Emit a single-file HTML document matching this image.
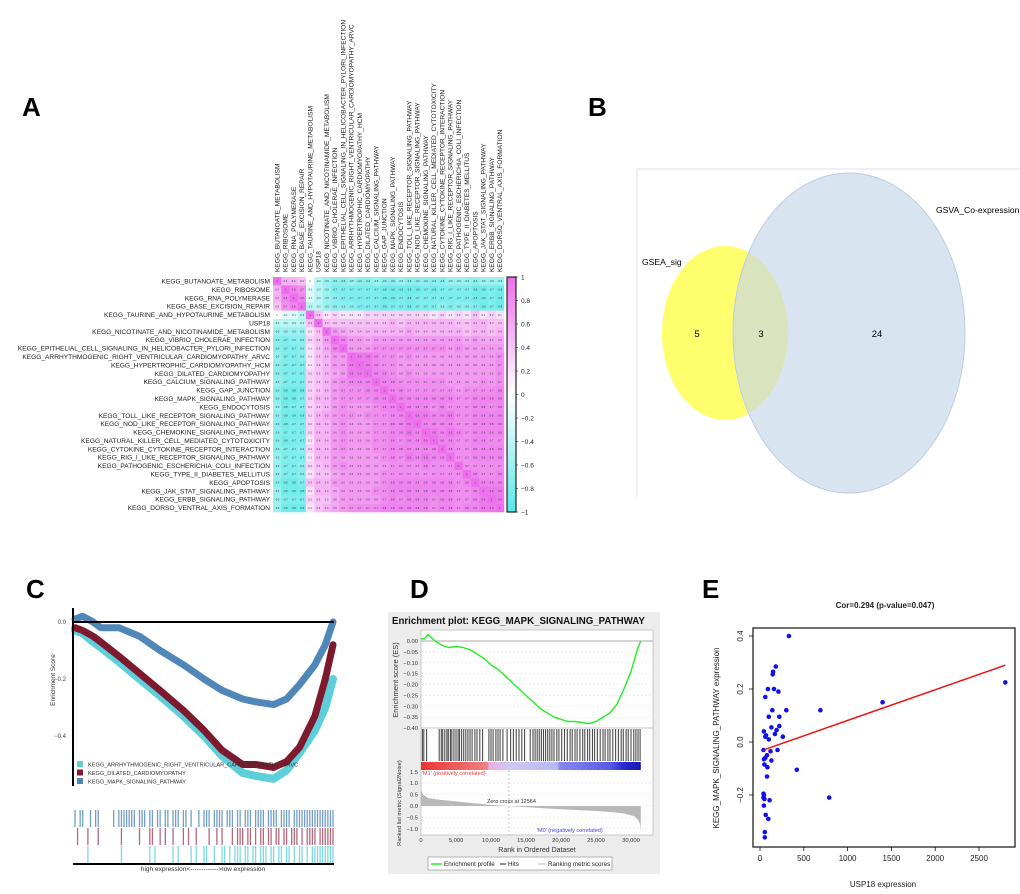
<!DOCTYPE html>
<html><head><meta charset="utf-8">
<style>
html,body{margin:0;padding:0;background:#fff;}
svg{display:block;font-family:"Liberation Sans",Arial,sans-serif;}
</style></head>
<body>
<svg id="fig" width="1020" height="894" viewBox="0 0 1020 894" xmlns="http://www.w3.org/2000/svg">
  <text x="22" y="116" font-size="26" font-weight="bold">A</text>
  <text x="588" y="116" font-size="26" font-weight="bold">B</text>
  <text x="26" y="598" font-size="26" font-weight="bold">C</text>
  <text x="410" y="598" font-size="26" font-weight="bold">D</text>
  <text x="702" y="598" font-size="26" font-weight="bold">E</text>

  <g id="venn">
    <line x1="637" y1="169" x2="1020" y2="169" stroke="#e2e2e2" stroke-width="1"/>
    <line x1="637" y1="169" x2="637" y2="497" stroke="#e2e2e2" stroke-width="1"/>
    <ellipse cx="725" cy="333" rx="63" ry="87" fill="#ffff55" fill-opacity="0.85"/>
    <ellipse cx="849" cy="333" rx="116" ry="160" fill="#c5d5ea" fill-opacity="0.65" stroke="#bccde4" stroke-width="1"/>
    <text x="642" y="265" font-size="8.6">GSEA_sig</text>
    <text x="936" y="213" font-size="8.6">GSVA_Co-expression</text>
    <text x="697" y="337" font-size="9.5" text-anchor="middle">5</text>
    <text x="761" y="337" font-size="9.5" text-anchor="middle">3</text>
    <text x="877" y="337" font-size="9.5" text-anchor="middle">24</text>
  </g>
  <g id="heat"></g>
  <g id="gseaC"></g>
  <g id="gseaD"></g>
  <g id="scatE"></g>
</svg>
<script>
// ---------- Panel A data ----------
const pathways = ["KEGG_BUTANOATE_METABOLISM","KEGG_RIBOSOME","KEGG_RNA_POLYMERASE","KEGG_BASE_EXCISION_REPAIR","KEGG_TAURINE_AND_HYPOTAURINE_METABOLISM","USP18","KEGG_NICOTINATE_AND_NICOTINAMIDE_METABOLISM","KEGG_VIBRIO_CHOLERAE_INFECTION","KEGG_EPITHELIAL_CELL_SIGNALING_IN_HELICOBACTER_PYLORI_INFECTION","KEGG_ARRHYTHMOGENIC_RIGHT_VENTRICULAR_CARDIOMYOPATHY_ARVC","KEGG_HYPERTROPHIC_CARDIOMYOPATHY_HCM","KEGG_DILATED_CARDIOMYOPATHY","KEGG_CALCIUM_SIGNALING_PATHWAY","KEGG_GAP_JUNCTION","KEGG_MAPK_SIGNALING_PATHWAY","KEGG_ENDOCYTOSIS","KEGG_TOLL_LIKE_RECEPTOR_SIGNALING_PATHWAY","KEGG_NOD_LIKE_RECEPTOR_SIGNALING_PATHWAY","KEGG_CHEMOKINE_SIGNALING_PATHWAY","KEGG_NATURAL_KILLER_CELL_MEDIATED_CYTOTOXICITY","KEGG_CYTOKINE_CYTOKINE_RECEPTOR_INTERACTION","KEGG_RIG_I_LIKE_RECEPTOR_SIGNALING_PATHWAY","KEGG_PATHOGENIC_ESCHERICHIA_COLI_INFECTION","KEGG_TYPE_II_DIABETES_MELLITUS","KEGG_APOPTOSIS","KEGG_JAK_STAT_SIGNALING_PATHWAY","KEGG_ERBB_SIGNALING_PATHWAY","KEGG_DORSO_VENTRAL_AXIS_FORMATION"];
const corrRows = [
"1 .4 .4 .3 0 -.3 -.5 -.6 -.6 -.5 -.6 -.6 -.5 -.6 -.6 -.5 -.6 -.6 -.6 -.6 -.6 -.5 -.5 -.5 -.6 -.5 -.5 -.5",
".4 1 .8 .7 -.1 -.3 -.5 -.7 -.7 -.7 -.7 -.7 -.7 -.8 -.8 -.8 -.8 -.8 -.7 -.8 -.7 -.7 -.7 -.7 -.8 -.8 -.7 -.8",
".4 .8 1 .8 -.1 -.3 -.5 -.6 -.7 -.7 -.7 -.7 -.7 -.8 -.8 -.7 -.8 -.7 -.7 -.7 -.7 -.7 -.7 -.7 -.8 -.8 -.7 -.8",
".3 .7 .8 1 -.3 -.3 -.5 -.6 -.6 -.6 -.7 -.7 -.7 -.8 -.7 -.7 -.8 -.7 -.7 -.7 -.6 -.7 -.6 -.6 -.7 -.8 -.7 -.8",
"0 -.1 -.1 -.3 1 .3 .1 .2 .1 .1 .1 .2 .2 .2 .2 .2 .2 .2 .2 .1 .2 .1 .2 .1 .3 .1 .2 .1",
"-.3 -.3 -.3 -.3 .3 1 .3 .3 .3 .3 .3 .3 .3 .3 .4 .3 .4 .4 .4 .4 .4 .4 .3 .3 .4 .4 .3 .3",
"-.5 -.5 -.5 -.5 .1 .3 1 .6 .5 .4 .4 .4 .4 .4 .4 .4 .5 .4 .4 .4 .4 .4 .4 .3 .4 .4 .3 .4",
"-.6 -.7 -.6 -.6 .2 .3 .6 1 .8 .6 .6 .5 .6 .6 .6 .6 .6 .6 .6 .6 .6 .6 .6 .5 .6 .5 .5 .5",
"-.6 -.7 -.7 -.6 .1 .3 .5 .8 1 .6 .6 .6 .7 .7 .7 .7 .7 .7 .7 .7 .7 .6 .7 .6 .6 .6 .6 .6",
"-.5 -.7 -.7 -.6 .1 .3 .4 .6 .6 1 .9 .9 .8 .7 .7 .6 .7 .6 .6 .6 .6 .6 .6 .6 .6 .6 .6 .7",
"-.6 -.7 -.7 -.7 .1 .3 .4 .6 .6 .9 1 .9 .8 .7 .7 .6 .6 .6 .6 .6 .6 .6 .6 .6 .6 .6 .6 .7",
"-.6 -.7 -.7 -.7 .2 .3 .4 .5 .6 .9 .9 1 .8 .8 .7 .6 .7 .6 .6 .6 .6 .6 .6 .6 .6 .6 .6 .7",
"-.5 -.7 -.7 -.7 .2 .3 .4 .6 .7 .8 .8 .8 1 .8 .8 .7 .7 .7 .7 .7 .7 .6 .6 .6 .6 .7 .6 .7",
"-.6 -.8 -.8 -.8 .2 .3 .4 .6 .7 .7 .7 .8 .8 1 .8 .8 .7 .7 .7 .7 .7 .7 .6 .7 .7 .7 .7 .8",
"-.6 -.8 -.8 -.7 .2 .4 .4 .6 .7 .7 .7 .7 .8 .8 1 .8 .8 .8 .8 .8 .8 .8 .7 .7 .8 .8 .8 .8",
"-.5 -.8 -.7 -.7 .2 .3 .4 .6 .7 .6 .6 .6 .7 .8 .8 1 .8 .8 .8 .7 .8 .7 .7 .7 .8 .8 .7 .8",
"-.6 -.8 -.8 -.8 .2 .4 .5 .6 .7 .7 .6 .7 .7 .7 .8 .8 1 .9 .9 .8 .8 .9 .7 .7 .8 .8 .8 .8",
"-.6 -.8 -.7 -.7 .2 .4 .4 .6 .7 .6 .6 .6 .7 .7 .8 .8 .9 1 .8 .8 .8 .8 .7 .7 .8 .8 .8 .8",
"-.6 -.7 -.7 -.7 .2 .4 .4 .6 .7 .6 .6 .6 .7 .7 .8 .8 .9 .8 1 .9 .8 .9 .8 .7 .8 .8 .8 .8",
"-.6 -.8 -.7 -.7 .1 .4 .4 .6 .7 .6 .6 .6 .7 .7 .8 .7 .8 .8 .9 1 .8 .8 .7 .7 .8 .8 .7 .7",
"-.6 -.7 -.7 -.6 .2 .4 .4 .6 .7 .6 .6 .6 .7 .7 .8 .8 .8 .8 .8 .8 1 .8 .7 .7 .8 .8 .8 .8",
"-.5 -.7 -.7 -.7 .1 .4 .4 .6 .6 .6 .6 .6 .6 .7 .8 .7 .9 .8 .9 .8 .8 1 .7 .7 .8 .8 .8 .8",
"-.5 -.7 -.7 -.6 .2 .3 .4 .6 .7 .6 .6 .6 .6 .6 .7 .7 .7 .7 .8 .7 .7 .7 1 .7 .7 .7 .7 .7",
"-.5 -.7 -.7 -.6 .1 .3 .3 .5 .6 .6 .6 .6 .6 .7 .7 .7 .7 .7 .7 .7 .7 .7 .7 1 .8 .7 .7 .8",
"-.6 -.8 -.8 -.7 .3 .4 .4 .6 .6 .6 .6 .6 .6 .7 .8 .8 .8 .8 .8 .8 .8 .8 .7 .8 1 .8 .8 .8",
"-.5 -.8 -.8 -.8 .1 .4 .4 .5 .6 .6 .6 .6 .7 .7 .8 .8 .8 .8 .8 .8 .8 .8 .7 .7 .8 1 .9 .9",
"-.5 -.7 -.7 -.7 .2 .3 .3 .5 .6 .6 .6 .6 .6 .7 .8 .7 .8 .8 .8 .7 .8 .8 .7 .7 .8 .9 1 .9",
"-.5 -.8 -.8 -.8 .1 .3 .4 .5 .6 .7 .7 .7 .7 .8 .8 .8 .8 .8 .8 .7 .8 .8 .7 .8 .8 .9 .9 1"
];
const colorbarTicks = [1,0.8,0.6,0.4,0.2,0,-0.2,-0.4,-0.6,-0.8,-1];

// ---------- Panel C data ----------
const cRank = [0,0.03,0.07,0.1,0.17,0.25,0.33,0.42,0.5,0.57,0.65,0.7,0.77,0.82,0.87,0.93,0.97,1.0];
const cMapk = [0.01,0.02,0.0,-0.02,-0.02,-0.05,-0.1,-0.15,-0.2,-0.24,-0.27,-0.28,-0.29,-0.27,-0.22,-0.15,-0.08,0.0];
const cDilated = [-0.02,-0.03,-0.05,-0.07,-0.12,-0.18,-0.24,-0.31,-0.38,-0.45,-0.5,-0.5,-0.51,-0.49,-0.44,-0.33,-0.2,-0.08];
const cArvc = [-0.03,-0.04,-0.07,-0.09,-0.14,-0.2,-0.26,-0.33,-0.4,-0.47,-0.53,-0.54,-0.55,-0.52,-0.46,-0.38,-0.3,-0.2];
const cTicks = [0.0,-0.2,-0.4];
const cLegend = ["KEGG_ARRHYTHMOGENIC_RIGHT_VENTRICULAR_CARDIOMYOPATHY_ARVC","KEGG_DILATED_CARDIOMYOPATHY","KEGG_MAPK_SIGNALING_PATHWAY"];
const rugMapk = [0.0,0.02,0.03,0.06,0.08,0.09,0.15,0.17,0.18,0.19,0.2,0.21,0.22,0.23,0.25,0.26,0.27,0.29,0.3,0.32,0.33,0.35,0.36,0.38,0.39,0.4,0.42,0.43,0.45,0.48,0.5,0.51,0.52,0.54,0.55,0.56,0.57,0.59,0.6,0.61,0.63,0.64,0.66,0.67,0.68,0.7,0.71,0.72,0.73,0.75,0.76,0.77,0.78,0.8,0.81,0.82,0.83,0.85,0.86,0.87,0.88,0.89,0.9,0.91,0.92,0.93,0.94,0.95,0.96,0.97,0.98,0.99,1.0];
const rugDilated = [0.01,0.05,0.09,0.18,0.25,0.29,0.3,0.33,0.35,0.38,0.42,0.44,0.47,0.52,0.55,0.57,0.61,0.63,0.64,0.65,0.67,0.68,0.7,0.72,0.73,0.75,0.76,0.78,0.79,0.81,0.82,0.84,0.85,0.86,0.88,0.9,0.91,0.92,0.93,0.95,0.96,0.97,0.98,0.99,1.0];
const rugArvc = [0.05,0.18,0.29,0.31,0.38,0.4,0.45,0.47,0.5,0.51,0.54,0.57,0.58,0.6,0.62,0.63,0.64,0.66,0.67,0.69,0.7,0.72,0.73,0.74,0.76,0.77,0.79,0.8,0.82,0.83,0.85,0.87,0.88,0.9,0.92,0.93,0.94,0.95,0.96,0.97,0.98,0.99,1.0];

// ---------- Panel D data ----------
const dRank = [0,500,1000,2000,3000,4000,5000,6000,7000,8000,9000,10000,11000,12000,13000,14000,15000,16000,17000,18000,19000,20000,21000,22000,23000,24000,25000,26000,27000,28000,29000,30000,31000,31400];
const dEs = [0.01,0.01,0.03,0.0,-0.02,-0.03,-0.025,-0.03,-0.04,-0.06,-0.08,-0.11,-0.13,-0.16,-0.19,-0.22,-0.25,-0.28,-0.31,-0.33,-0.35,-0.36,-0.37,-0.37,-0.375,-0.38,-0.37,-0.35,-0.33,-0.29,-0.22,-0.14,-0.03,0.0];
const dHits = [200,400,800,2600,2900,3100,3400,3700,3900,4200,4400,4700,5000,5300,5500,5800,6100,6400,6700,7000,7300,7700,8000,8400,8800,9700,10000,10300,10700,11000,11300,11700,12300,12800,13200,13600,14000,14400,14800,15600,16000,16300,16600,16900,17200,17500,17800,18100,18400,18700,19000,19400,19700,20100,20500,20900,21300,21600,22000,22300,22700,23100,23400,23800,24100,24500,24800,25200,25600,26000,26300,26700,27000,27400,27800,28200,28600,28900,29300,29600,30000,30400,30700,31000,31300];
const dMetricRank = [0,300,1000,2500,5000,7500,10000,12564,15000,17500,20000,22500,25000,27500,29000,30500,31000,31300,31400];
const dMetric = [0.7,0.5,0.35,0.28,0.2,0.12,0.05,0.0,-0.05,-0.1,-0.14,-0.18,-0.22,-0.27,-0.33,-0.45,-0.6,-0.8,-1.1];
const dEsTicks = [0.00,-0.05,-0.10,-0.15,-0.20,-0.25,-0.30,-0.35,-0.40];
const dMetricTicks = [1.5,1.0,0.5,0.0,-0.5,-1.0];
const dRankTicks = [0,5000,10000,15000,20000,25000,30000];

// ---------- Panel E data ----------
const usp18 = [330,180,150,145,90,160,210,60,140,300,690,1400,2800,100,220,130,220,190,45,170,70,260,60,100,200,40,120,80,60,45,130,50,85,420,80,40,45,40,50,110,790,45,65,95,55,55];
const mapkExpr = [0.40,0.285,0.265,0.255,0.20,0.20,0.19,0.17,0.12,0.12,0.12,0.15,0.225,0.095,0.095,0.055,0.06,0.045,0.04,0.03,0.025,0.02,0.02,0.01,-0.03,-0.03,-0.035,-0.05,-0.06,-0.065,-0.07,-0.085,-0.095,-0.105,-0.13,-0.195,-0.2,-0.21,-0.215,-0.22,-0.21,-0.24,-0.275,-0.29,-0.34,-0.36];
const fitX = [40,2800];
const fitY = [-0.03,0.29];
const eXTicks = [0,500,1000,1500,2000,2500];
const eYTicks = [0.4,0.2,0.0,-0.2];

const NS = "http://www.w3.org/2000/svg";
function mk(parent, tag, attrs, txt){
  const e = document.createElementNS(NS, tag);
  for (const k in attrs) e.setAttribute(k, attrs[k]);
  if (txt !== undefined) e.textContent = txt;
  parent.appendChild(e);
  return e;
}
function poly(xs, ys, fx, fy){ return xs.map((x,i)=>fx(x).toFixed(1)+","+fy(ys[i]).toFixed(1)).join(" "); }

// ===== Panel A =====
(function(){
  const g = document.getElementById('heat');
  const n = pathways.length, x0 = 273, y0 = 277, cw = 231/n, ch = 235/n;
  const matrix = corrRows.map(r => r.trim().split(/\s+/).map(Number));
  function col(v){
    let c;
    const t = Math.pow(Math.abs(v), 0.7);
    if (v >= 0) c = [255 + (236-255)*t, 255 + (110-255)*t, 255 + (236-255)*t];
    else c = [255 + (90-255)*t, 255 + (232-255)*t, 255 + (232-255)*t];
    return "rgb("+c.map(Math.round).join(",")+")";
  }
  for (let i=0;i<n;i++){
    const rl = mk(g,'text',{x:270,y:(y0+ch*(i+0.5)+2.3).toFixed(1),'font-size':6.6,'text-anchor':'end',fill:'#222'}, pathways[i]);
    
    
    const cx = x0+cw*(i+0.5)+2.3;
    const cl = mk(g,'text',{x:cx.toFixed(1),y:272,'font-size':6.6,fill:'#222',transform:'rotate(-90 '+cx.toFixed(1)+' 272)'}, pathways[i]);
    
    
    for (let j=0;j<n;j++){
      const v = matrix[i][j];
      const r = mk(g,'rect',{x:(x0+cw*j).toFixed(2),y:(y0+ch*i).toFixed(2),width:(cw+0.3).toFixed(2),height:(ch+0.3).toFixed(2),fill:col(v)});
      
      
      const t = mk(g,'text',{x:(x0+cw*(j+0.5)).toFixed(1),y:(y0+ch*(i+0.5)+1).toFixed(1),'font-size':2.6,'text-anchor':'middle',fill:'#333'}, String(v));
      
      
    }
  }
  const defs = mk(g,'defs',{});
  const lg = mk(defs,'linearGradient',{id:'cbar',x1:0,y1:0,x2:0,y2:1});
  mk(lg,'stop',{offset:'0','stop-color':col(1)});
  mk(lg,'stop',{offset:'0.5','stop-color':'#fff'});
  mk(lg,'stop',{offset:'1','stop-color':col(-1)});
  const cb = mk(g,'rect',{x:507,y:277,width:9,height:235,fill:'url(#cbar)',stroke:'#222','stroke-width':1.2});
  
  
  colorbarTicks.forEach(v=>{
    const y = 277 + (1-v)/2*235;
    mk(g,'line',{x1:516,x2:518,y1:y,y2:y,stroke:'#222','stroke-width':0.6});
    const t = mk(g,'text',{x:521,y:(y+2.3).toFixed(1),'font-size':6.5,fill:'#222'}, v===0?'0':String(v).replace('-','\u2212'));
    
    
  });
})();

// ===== Panel C =====
(function(){
  const g = document.getElementById('gseaC');
  const fx = f => 75 + f*258, fy = v => 622 - v*285;
  cTicks.forEach(v=>{
    const t = mk(g,'text',{x:66,y:fy(v)+2,'font-size':6,'text-anchor':'end',fill:'#444'}, v===0?'0.0':v.toFixed(1).replace('-','\u2212'));
    
    
  });
  const yt = mk(g,'text',{x:55,y:680,'font-size':6.5,'text-anchor':'middle',fill:'#333',transform:'rotate(-90 55 680)'},'Enrichment Score');
  
  
  const series = [[cArvc,'#5ccfdb',8,'arvc-curve'],[cDilated,'#7e1a2e',7,'dilated-curve'],[cMapk,'#5087b9',7,'mapk-curve']];
  series.forEach(s=>{
    const p = mk(g,'polyline',{points:poly(cRank,s[0],fx,fy),fill:'none',stroke:s[1],'stroke-width':s[2],'stroke-linejoin':'round','stroke-linecap':'round'});
    
    
  });
  const ax = mk(g,'line',{x1:73,y1:608,x2:73,y2:786,stroke:'#000','stroke-width':2});
  
  
  const zl = mk(g,'line',{x1:73,y1:fy(0),x2:334,y2:fy(0),stroke:'#000','stroke-width':2});
  
  
  const lc = ['#5ccfdb','#7e1a2e','#5087b9'];
  cLegend.forEach((name,i)=>{
    const y = 761 + i*8.5;
    const sw = mk(g,'rect',{x:77,y:y,width:6,height:6,fill:lc[i]});
    
    
    const t = mk(g,'text',{x:88,y:y+5.3,'font-size':5.6,fill:'#333'},name);
    
    
  });
  const rugs = [[rugMapk,'#5087b9',810,'mapk-rug'],[rugDilated,'#a0445a',828,'dilated-rug'],[rugArvc,'#5ccfdb',846,'arvc-rug']];
  rugs.forEach(r=>{
    r[0].forEach(f=>{
      const l = mk(g,'line',{x1:fx(f),x2:fx(f),y1:r[2],y2:r[2]+17,stroke:r[1],'stroke-width':1.3,'stroke-opacity':0.8});
      
      
    });
  });
  const bl = mk(g,'line',{x1:73,y1:864,x2:334,y2:864,stroke:'#000','stroke-width':2});
  
  
  const xt = mk(g,'text',{x:203,y:871,'font-size':6.5,'text-anchor':'middle',fill:'#333'},'high expression<------------->low expression');
  
  
})();

// ===== Panel D =====
(function(){
  const g = document.getElementById('gseaD');
  const fx = r => 421 + r*(210/30000);
  const fyE = v => 641 - v*(87/0.40);
  const fyM = m => 806 - m*22.8;
  const bg = mk(g,'rect',{x:388,y:612,width:272,height:262,fill:'#ececec'});
  
  
  const tt = mk(g,'text',{x:392,y:624,'font-size':9.7,'font-weight':'bold',fill:'#111'},'Enrichment plot: KEGG_MAPK_SIGNALING_PATHWAY');
  
  
  const pa = mk(g,'rect',{x:421,y:630,width:232,height:205,fill:'#fff',stroke:'#aaa','stroke-width':0.6});
  
  
  dEsTicks.forEach(v=>{
    const y = fyE(v);
    mk(g,'line',{x1:421,x2:653,y1:y,y2:y,stroke:'#ddd','stroke-width':0.5,'stroke-dasharray':'2,2'});
    const t = mk(g,'text',{x:418,y:y+2,'font-size':5.8,'text-anchor':'end',fill:'#333'},v.toFixed(2).replace('-','\u2212'));
    
    
  });
  mk(g,'line',{x1:421,x2:653,y1:fyE(0),y2:fyE(0),stroke:'#bbb','stroke-width':1.2});
  const es = mk(g,'polyline',{points:poly(dRank,dEs,fx,fyE),fill:'none',stroke:'#22ee22','stroke-width':1.4});
  
  
  mk(g,'line',{x1:421,x2:653,y1:728,y2:728,stroke:'#999','stroke-width':0.6});
  dHits.forEach(r=>{
    const l = mk(g,'line',{x1:fx(r),x2:fx(r),y1:729,y2:761,stroke:'#111','stroke-width':1.1,'stroke-opacity':0.75});
    
    
  });
  const defs = mk(g,'defs',{});
  const lg = mk(defs,'linearGradient',{id:'rankbar',x1:0,y1:0,x2:1,y2:0});
  [['0','#ee3333'],['0.3','#f08080'],['0.31','#e8b0e0'],['0.4','#cfc8f2'],['0.62','#b8b8f0'],['0.63','#8888ee'],['0.86','#5a5ae8'],['0.92','#2a2ad0'],['1','#1818b0']].forEach(s=>mk(lg,'stop',{offset:s[0],'stop-color':s[1]}));
  const rb = mk(g,'rect',{x:421,y:762,width:fx(31400)-421,height:8,fill:'url(#rankbar)'});
  
  
  dMetricTicks.forEach(v=>{
    const y = fyM(v);
    mk(g,'line',{x1:421,x2:653,y1:y,y2:y,stroke:'#ddd','stroke-width':0.5,'stroke-dasharray':'2,2'});
    const t = mk(g,'text',{x:418,y:y+2,'font-size':5.8,'text-anchor':'end',fill:'#333'},v.toFixed(1).replace('-','\u2212'));
    
    
  });
  const pts = dMetricRank.map((r,i)=>fx(r).toFixed(1)+','+fyM(dMetric[i]).toFixed(1));
  const area = mk(g,'polygon',{points:fx(0)+','+fyM(0)+' '+pts.join(' ')+' '+fx(31400)+','+fyM(0),fill:'#b8b8b8'});
  
  
  const zc = mk(g,'line',{x1:fx(12564),x2:fx(12564),y1:770,y2:835,stroke:'#999','stroke-width':0.6,'stroke-dasharray':'2,2'});
  
  
  const zt = mk(g,'text',{x:487,y:803,'font-size':5.5,fill:'#333'},'Zero cross at 12564');
  
  
  const m1 = mk(g,'text',{x:422,y:775,'font-size':5.5,fill:'#e04040'},"'M1' (positively correlated)");
  
  
  const m0 = mk(g,'text',{x:537,y:832,'font-size':5.5,fill:'#4040e0'},"'M0' (negatively correlated)");
  
  
  dRankTicks.forEach(r=>{
    const t = mk(g,'text',{x:fx(r),y:842,'font-size':5.8,'text-anchor':'middle',fill:'#333'},r.toLocaleString('en-US'));
    
    
  });
  const xt = mk(g,'text',{x:537,y:852,'font-size':7,'text-anchor':'middle',fill:'#333'},'Rank in Ordered Dataset');
  
  
  const y1 = mk(g,'text',{x:398,y:680,'font-size':7.5,'text-anchor':'middle',fill:'#333',transform:'rotate(-90 398 680)'},'Enrichment score (ES)');
  
  
  const y2 = mk(g,'text',{x:401,y:803,'font-size':5.8,'text-anchor':'middle',fill:'#333',transform:'rotate(-90 401 803)'},'Ranked list metric (Signal2Noise)');
  
  
  const lb = mk(g,'rect',{x:428,y:857,width:184,height:13,fill:'#fff',stroke:'#888','stroke-width':0.6});
  
  
  mk(g,'line',{x1:431,x2:442,y1:864,y2:864,stroke:'#22ee22','stroke-width':1.5});
  const l1 = mk(g,'text',{x:444,y:866,'font-size':6.3,fill:'#222'},'Enrichment profile');
  
  
  mk(g,'line',{x1:500,x2:506,y1:864,y2:864,stroke:'#222','stroke-width':1});
  const l2 = mk(g,'text',{x:508,y:866,'font-size':6.3,fill:'#222'},'Hits');
  
  
  mk(g,'line',{x1:538,x2:546,y1:864,y2:864,stroke:'#bbb','stroke-width':1});
  const l3 = mk(g,'text',{x:548,y:866,'font-size':6.3,fill:'#222'},'Ranking metric scores');
  
  
})();

// ===== Panel E =====
(function(){
  const g = document.getElementById('scatE');
  const fx = v => 760 + v*0.0876, fy = v => 742 - v*265;
  const tt = mk(g,'text',{x:885,y:608,'font-size':8,'font-weight':'bold','text-anchor':'middle',fill:'#222'},'Cor=0.294 (p-value=0.047)');
  
  
  usp18.forEach((x,i)=>{
    const c = mk(g,'circle',{cx:fx(x).toFixed(1),cy:fy(mapkExpr[i]).toFixed(1),r:2.3,fill:'#1010ee'});
    
    
  });
  const fl = mk(g,'line',{x1:fx(fitX[0]),y1:fy(fitY[0]),x2:fx(fitX[1]),y2:fy(fitY[1]),stroke:'#ee1111','stroke-width':1.5});
  
  
  const box = mk(g,'rect',{x:753,y:628,width:262,height:219,fill:'none',stroke:'#111','stroke-width':1.2});
  
  
  eXTicks.forEach(v=>{
    const x = fx(v);
    mk(g,'line',{x1:x,x2:x,y1:847,y2:851,stroke:'#111','stroke-width':0.8});
    const t = mk(g,'text',{x:x,y:861,'font-size':8,'text-anchor':'middle',fill:'#222'},String(v));
    
    
  });
  eYTicks.forEach(v=>{
    const y = fy(v);
    mk(g,'line',{x1:749,x2:753,y1:y,y2:y,stroke:'#111','stroke-width':0.8});
    const t = mk(g,'text',{x:743,y:y,'font-size':8,'text-anchor':'middle',fill:'#222',transform:'rotate(-90 743 '+y+')'},v.toFixed(1).replace('-','\u2212'));
    
    
  });
  const xt = mk(g,'text',{x:883,y:887,'font-size':8,'text-anchor':'middle',fill:'#222'},'USP18 expression');
  
  
  const yt = mk(g,'text',{x:719,y:738,'font-size':8,'text-anchor':'middle',fill:'#222',transform:'rotate(-90 719 738)'},'KEGG_MAPK_SIGNALING_PATHWAY expression');
  
  
})();
</script>
</body></html>
